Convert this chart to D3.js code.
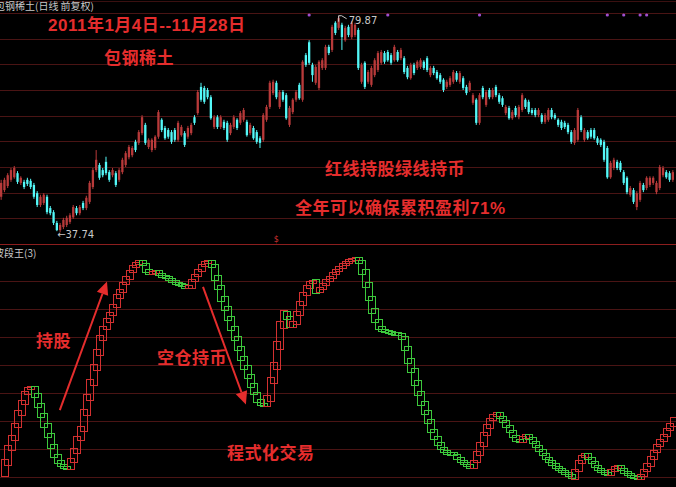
<!DOCTYPE html>
<html><head><meta charset="utf-8">
<script src="https://cdn.jsdelivr.net/npm/d3@7"></script>
<style>html,body{margin:0;padding:0;background:#000;overflow:hidden}</style>
</head><body><svg id="c" width="676" height="487"></svg>
<script>
// ---- data ----
const opens=[44.6,45.9,46.7,47.9,48.4,49.2,47.3,47.5,47.9,47.7,
46.9,45.3,43.0,43.4,44.6,42.4,41.6,39.5,38.1,38.7,
39.1,39.7,40.6,42.4,41.4,43.4,42.4,43.6,46.5,49.8,
50.8,49.8,51.4,49.4,48.8,49.2,47.9,49.4,50.8,52.3,
52.7,55.3,55.1,57.0,58.6,54.3,53.7,54.1,56.3,59.6,
58.0,57.6,57.2,57.6,55.7,56.6,57.0,56.3,57.0,60.1,
60.9,66.0,65.8,65.4,64.0,58.2,60.1,58.2,59.2,59.0,
57.0,58.2,59.6,59.0,59.6,59.2,57.0,58.0,57.2,56.0,
55.7,59.6,62.1,64.8,66.8,62.1,65.0,64.4,58.6,61.1,
63.5,66.4,63.5,72.2,74.7,70.3,66.8,65.8,69.7,69.7,
73.8,73.2,78.5,77.5,78.1,75.1,77.7,75.7,76.1,77.1,
67.0,70.7,67.0,66.4,68.3,69.3,70.7,72.6,72.8,72.2,
71.2,72.8,71.6,71.6,69.7,67.7,70.3,69.7,69.9,70.9,
71.6,68.3,69.7,68.9,68.3,67.4,66.0,66.4,67.0,68.7,
67.0,67.7,66.0,65.4,62.9,63.5,59.0,65.8,62.5,65.4,
64.0,66.0,64.4,63.8,60.9,61.9,59.9,61.9,60.1,61.5,
63.5,63.1,61.5,61.5,60.5,60.5,59.2,59.6,61.5,60.5,
59.6,59.2,59.0,58.6,57.2,55.1,55.7,60.1,55.7,57.2,
57.6,57.6,56.0,55.7,55.3,54.1,48.4,50.2,51.4,51.2,
49.4,48.3,45.0,45.9,42.6,44.0,46.9,46.3,46.9,47.3,
45.5,46.3,48.8,49.4,49.2,47.9];
const closes=[47.3,47.9,48.8,49.8,50.2,47.5,48.3,46.5,47.1,46.5,
44.6,43.0,44.6,45.0,41.6,41.4,39.5,38.1,39.1,40.1,
40.5,41.0,42.6,41.4,42.6,42.4,44.4,47.3,49.8,51.8,
48.3,48.8,49.2,47.9,49.8,46.9,49.8,51.8,53.1,54.3,
54.1,53.7,57.2,60.1,55.1,55.7,55.7,56.3,61.1,57.6,
56.0,56.3,55.3,55.7,59.0,58.2,54.7,58.0,58.6,59.0,
65.0,63.5,63.1,64.0,59.9,60.1,58.2,60.1,58.0,55.7,
58.6,60.1,58.0,60.9,61.5,56.6,58.6,56.0,55.3,55.1,
60.5,62.1,66.8,67.0,64.0,65.0,63.5,59.9,61.9,63.5,
65.0,63.8,70.9,70.3,70.7,68.3,69.9,70.9,71.2,73.8,
72.6,77.7,76.5,79.4,75.7,77.5,76.1,78.5,78.1,69.7,
70.3,66.0,68.9,69.7,71.2,72.6,72.8,70.9,71.2,70.7,
73.8,71.2,73.2,68.9,67.9,70.3,68.7,70.9,71.2,69.7,
69.3,69.7,68.7,67.7,67.0,65.4,67.0,67.7,68.9,67.4,
68.7,65.8,64.8,66.8,64.4,59.0,64.4,64.0,65.0,64.0,
65.4,64.4,63.1,62.5,62.1,59.9,61.1,60.5,62.1,64.4,
62.1,61.1,60.9,60.5,61.5,59.2,60.5,61.5,60.1,59.9,
58.6,58.0,58.2,57.2,55.3,57.6,61.5,57.6,57.6,56.0,
56.3,56.0,55.1,54.7,51.8,48.4,51.2,51.8,50.2,49.8,
47.3,45.5,46.3,43.6,45.3,47.3,45.9,48.3,48.3,48.3,
47.3,50.4,50.2,48.4,47.9,49.4];
const highs=[47.9,48.3,49.2,50.2,50.6,49.6,48.6,47.9,48.3,48.1,
47.3,45.7,45.0,45.3,45.0,42.8,42.0,39.9,39.5,40.5,
40.9,41.4,43.0,42.8,43.0,43.8,44.8,47.7,50.2,53.7,
51.2,50.2,52.4,49.8,50.2,49.6,50.2,52.2,53.5,54.7,
54.5,55.7,57.6,60.5,59.0,56.0,56.0,56.6,61.5,59.9,
58.4,58.0,57.6,58.0,59.4,58.6,57.4,58.4,59.0,60.5,
65.4,66.8,66.2,65.8,64.4,60.5,60.5,60.5,59.6,59.4,
59.0,60.5,59.9,61.3,61.9,59.6,59.0,58.4,57.6,56.4,
60.9,62.5,67.2,67.4,67.2,65.4,65.4,64.8,62.3,63.8,
65.4,66.8,71.2,72.6,75.1,70.7,70.3,71.2,71.6,74.2,
74.2,78.1,78.8,79.87,78.5,77.9,78.1,78.8,78.5,77.5,
70.7,71.0,69.3,70.1,71.6,73.0,73.2,73.0,73.2,72.6,
74.2,73.2,73.6,72.0,70.1,70.7,70.7,71.2,71.6,71.2,
72.0,70.1,70.1,69.3,68.7,67.7,67.4,68.1,69.3,69.1,
69.1,68.1,66.4,67.2,64.8,63.8,64.8,66.2,65.4,65.8,
65.8,66.4,64.8,64.2,62.5,62.3,61.5,62.3,62.5,64.8,
63.8,63.5,61.9,61.9,61.9,60.9,60.9,61.9,61.9,60.9,
59.9,59.6,59.4,59.0,57.6,58.0,61.9,60.5,58.0,57.6,
58.0,58.0,56.4,56.0,55.7,54.5,51.6,52.2,51.8,51.6,
49.8,48.6,46.7,46.3,45.7,47.7,47.3,48.6,48.6,48.6,
47.7,50.8,50.6,49.8,49.6,49.8];
const lows=[44.0,45.5,46.3,47.5,48.1,47.1,46.9,46.1,46.7,46.1,
44.2,42.6,42.6,43.0,41.2,41.0,39.1,37.9,37.74,38.3,
38.7,39.3,40.3,41.0,41.0,42.0,42.0,43.2,46.1,49.4,
47.9,48.4,48.8,47.5,48.4,46.5,47.5,49.0,50.4,51.9,
52.3,53.3,54.7,56.6,54.7,53.9,53.3,53.7,55.9,57.2,
55.7,55.9,54.9,55.3,55.3,56.3,54.3,55.9,56.6,58.6,
60.5,63.1,62.7,63.6,59.6,57.8,57.8,57.8,57.6,55.3,
56.6,57.8,57.6,58.6,59.2,56.3,56.6,55.7,54.9,54.1,
55.3,59.2,61.7,64.4,63.6,61.7,63.1,59.6,58.2,60.7,
63.1,63.5,63.1,69.9,70.3,67.0,66.4,65.4,69.3,69.3,
72.2,72.8,76.1,77.1,73.2,74.8,75.7,75.3,75.7,69.3,
66.6,65.6,66.6,66.0,67.9,68.9,70.3,70.5,70.9,70.3,
70.9,70.9,71.2,68.5,67.5,67.4,68.3,69.3,69.5,69.3,
68.9,67.9,68.3,67.4,66.6,65.0,65.6,66.0,66.6,67.0,
66.6,65.4,64.4,65.0,62.5,58.6,58.6,63.6,62.1,63.6,
63.6,64.0,62.7,62.1,60.5,59.6,59.6,60.1,59.7,61.1,
61.7,60.7,60.5,60.1,60.1,58.8,58.8,59.2,59.7,59.6,
58.2,57.6,57.8,56.8,54.9,54.7,55.3,57.2,55.3,55.7,
55.9,55.7,54.7,54.3,51.4,48.1,48.1,49.8,49.8,49.4,
46.9,45.1,44.6,43.2,42.0,43.6,45.5,45.9,46.5,46.9,
45.1,45.9,48.4,48.1,47.5,47.5];
// 波段王(3) indicator line
const signal=[1.1,5.4,10.4,14.3,18.6,22.9,26.8,30.0,31.8,32.1,
29.3,25.7,22.1,18.6,15.0,11.1,7.9,5.7,4.3,3.6,
3.2,6.1,9.6,13.9,17.5,23.2,28.6,33.9,39.3,44.6,
49.6,53.2,56.1,58.6,61.4,64.6,66.8,69.3,71.4,73.6,
75.4,76.4,77.1,76.1,73.9,72.9,73.2,73.6,72.5,71.8,
71.4,70.7,70.0,69.3,68.9,68.6,67.9,68.2,70.4,72.1,
73.9,75.7,76.8,77.1,75.4,71.4,67.9,63.9,60.4,56.8,
53.2,49.6,46.1,42.5,39.3,36.1,32.9,30.0,27.5,26.1,
25.7,28.6,34.6,40.0,47.1,54.3,58.9,56.8,53.9,55.4,
58.6,62.1,65.4,67.9,69.6,70.0,66.4,67.5,68.9,70.4,
71.4,72.9,73.9,75.0,76.1,76.8,77.5,77.9,78.2,76.8,
73.2,68.6,63.9,59.6,56.1,53.6,52.5,52.1,51.9,51.6,
51.3,51.0,49.6,46.1,41.8,38.2,33.9,30.0,26.4,23.2,
20.0,16.8,14.3,12.1,10.4,9.3,8.6,8.4,7.9,6.8,
5.7,5.0,4.3,3.6,5.7,8.6,11.8,15.4,18.2,20.7,
22.1,22.9,21.4,20.0,18.2,16.4,14.6,13.2,12.9,14.3,
15.0,13.9,12.5,11.1,9.6,8.2,6.8,5.7,4.6,3.6,
2.9,2.1,1.4,0.7,0.0,2.5,5.4,7.5,8.2,6.8,
5.4,3.9,2.9,2.1,1.4,1.1,2.5,3.6,3.9,2.9,
1.8,1.1,0.4,0.0,-0.4,0.7,2.5,4.6,7.1,9.3,
11.4,13.2,15.0,17.1,18.9,21.1];
const markerIdx=[94,118,146,185,190,195,197];
const dollarIdx=[84];
const highLabel="79.87", lowLabel="37.74";
const titleText="包钢稀土(日线 前复权)";
const subTitle="波段王(3)";
const notes=[
 {t:"2011年1月4日--11月28日",x:48,y:31},
 {t:"包钢稀土",x:104,y:64},
 {t:"红线持股绿线持币",x:325,y:175},
 {t:"全年可以确保累积盈利71%",x:295,y:214},
 {t:"持股",x:36,y:347},
 {t:"空仓持币",x:157,y:364},
 {t:"程式化交易",x:227,y:459}
];
// arrows in data space (bar index, indicator value)
const arrows=[
 {from:[17.9,23.9],to:[32.3,69.8]},
 {from:[61.6,67.9],to:[74.7,25.9]}
];

// ---- drawing ----
const W=676,H=487,N=closes.length;
const svg=d3.select("#c");
svg.append("rect").attr("width",W).attr("height",H).attr("fill","#000");
const x=d3.scaleBand().domain(d3.range(N)).range([0,674]).paddingInner(0.3).paddingOuter(0);
const bw=x.bandwidth(), step=x.step();
const xc=i=>x(0)+i*step+bw/2;
const y=d3.scaleLinear().domain([35.4,80.4]).range([244,13]);
const yv=d3.scaleLinear().domain([0,80]).range([477,253]);

const grid=svg.append("g");
d3.range(40.4,80.5,5).forEach(p=>{
  grid.append("line").attr("x1",0).attr("x2",W).attr("y1",Math.round(y(p))+0.5).attr("y2",Math.round(y(p))+0.5)
   .attr("stroke","#4a1414").attr("stroke-width",1);
});
d3.range(0,71,10).forEach(v=>{
  grid.append("line").attr("x1",0).attr("x2",W).attr("y1",Math.round(yv(v))+0.5).attr("y2",Math.round(yv(v))+0.5)
   .attr("stroke","#4a1414").attr("stroke-width",1);
});
svg.append("line").attr("x1",0).attr("x2",W).attr("y1",244.5).attr("y2",244.5).attr("stroke","#8c1e1e");
svg.append("line").attr("x1",0).attr("x2",W).attr("y1",1.5).attr("y2",1.5).attr("stroke","#3a1010");

// candles
const up="#b83a3a", dn="#54f8f8";
const cg=svg.append("g");
d3.range(N).forEach(i=>{
  const o=opens[i],c=closes[i],col=c>=o?up:dn;
  cg.append("line").attr("x1",xc(i)).attr("x2",xc(i)).attr("y1",y(highs[i])).attr("y2",y(lows[i]))
    .attr("stroke",col).attr("stroke-width",1);
  const t=y(Math.max(o,c)), b=y(Math.min(o,c));
  cg.append("rect").attr("x",x(i)).attr("width",bw).attr("y",t).attr("height",Math.max(1,b-t)).attr("fill",col);
});

// markers
markerIdx.forEach(i=>{
  svg.append("circle").attr("cx",xc(i)).attr("cy",15).attr("r",1.6).attr("fill","#a050d0");
});
dollarIdx.forEach(i=>{
  svg.append("text").attr("x",xc(i)).attr("y",242).attr("text-anchor","middle").attr("font-size",8)
   .attr("font-family","DejaVu Sans").attr("fill","#d03030").text("$");
});

// high / low labels
const hi=highs.indexOf(d3.max(highs)), lo=lows.indexOf(d3.min(lows));
const hx=xc(hi), hy=y(highs[hi]);
svg.append("path").attr("d",`M${hx},${hy+6}L${hx},${hy}L${hx+3},${hy}L${hx+8},${hy+3}`).attr("fill","none").attr("stroke","#c8c8c8");
svg.append("text").attr("x",hx+10).attr("y",hy+8).attr("font-size",10).attr("font-family","DejaVu Sans").attr("fill","#c8c8c8").text(highLabel);
svg.append("text").attr("x",xc(lo)-3).attr("y",y(lows[lo])+6).attr("font-size",10).attr("font-family","DejaVu Sans").attr("fill","#c8c8c8").text("←"+lowLabel);

// indicator boxes (hollow, shingled)
const ig=svg.append("g");
for(let i=1;i<N;i++){
  const a=signal[i-1],b=signal[i];
  const col=b>=a?"#d23030":"#3cc83c";
  let t=yv(Math.max(a,b)),bt=yv(Math.min(a,b));
  const pad=Math.max(1,(bt-t)*0.2);
  t-=pad; bt+=pad;
  ig.append("rect").attr("x",Math.round(xc(i)-step)+0.5).attr("width",Math.round(2*step)).attr("y",Math.round(t)+0.5).attr("height",Math.max(2,Math.round(bt-t)))
   .attr("fill","none").attr("stroke",col).attr("stroke-width",1);
}

// titles
svg.append("text").attr("x",-5).attr("y",10).attr("font-size",10).attr("font-family","Noto Sans CJK SC").attr("fill","#c8c8c8").text(titleText);
svg.append("text").attr("x",-6).attr("y",257).attr("font-size",10).attr("font-family","Noto Sans CJK SC").attr("fill","#c8c8c8").text(subTitle);

// red notes
notes.forEach(n=>{
  svg.append("text").attr("x",n.x).attr("y",n.y).attr("font-size",17).attr("font-weight","bold").attr("letter-spacing",0.5)
   .attr("font-family","'Liberation Sans','Noto Sans CJK SC'").attr("fill","#e52d2d").text(n.t);
});

// arrows
const ax=i=>x(0)+i*step+bw/2;
arrows.forEach(a=>{
  const x1=ax(a.from[0]),y1=yv(a.from[1]),x2=ax(a.to[0]),y2=yv(a.to[1]);
  const ang=Math.atan2(y2-y1,x2-x1), L=13, Wd=6;
  const bx=x2-L*Math.cos(ang), by=y2-L*Math.sin(ang);
  svg.append("line").attr("x1",x1).attr("y1",y1).attr("x2",bx).attr("y2",by).attr("stroke","#e52d2d").attr("stroke-width",2);
  const px=-Math.sin(ang)*Wd, py=Math.cos(ang)*Wd;
  svg.append("path").attr("d",`M${x2},${y2}L${bx+px},${by+py}L${bx-px},${by-py}Z`).attr("fill","#e52d2d");
});
</script></body></html>
